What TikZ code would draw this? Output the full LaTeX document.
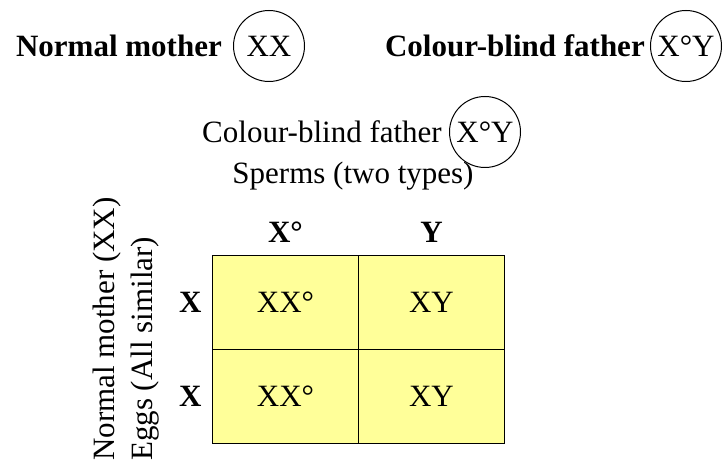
\documentclass[tikz,border=0pt]{standalone}
\usepackage{fontspec}
\setmainfont{Liberation Serif}
\usetikzlibrary{positioning}
\definecolor{cellyellow}{RGB}{255,255,153}
\begin{document}
\begin{tikzpicture}[x=1pt,y=-1pt,
	txt/.style={inner sep=0pt,font=\fontsize{31}{36}\selectfont},
	hd/.style={inner sep=0pt,font=\fontsize{31}{36}\selectfont\bfseries},
	gene/.style={txt,draw,circle,line width=1pt,minimum size=71pt},
	cell/.style={txt,draw,line width=1.5pt,fill=cellyellow,
		minimum width=146pt,minimum height=94pt}]
	\useasboundingbox (0,0) rectangle (724,470);

	% parents
	\node[gene] (mg) at (269,46) {XX};
	\node[hd, left=11pt of mg] (mlab) {Normal mother};
	\node[gene] (fg) at (686,46) {X°Y};
	\node[hd, left=5pt of fg] (flab) {Colour-blind father};

	% sperms
	\node[gene] (sg) at (485,132) {X°Y};
	\node[txt, left=7pt of sg] (slab) {Colour-blind father};
	\node[txt] (sperm) at (353,176) {Sperms (two types)};

	% punnett square
	\node[cell] (c11) at (285.5,302.5) {XX°};
	\node[cell] (c12) at (431.5,302.5) {XY};
	\node[cell] (c21) at (285.5,396.5) {XX°};
	\node[cell] (c22) at (431.5,396.5) {XY};

	\node[hd, above=12pt of c11] (xo) {X°};
	\node[hd, above=12pt of c12] (yy) {Y};
	\node[hd, left=10pt of c11] (x1) {X};
	\node[hd, left=10pt of c21] (x2) {X};

	% eggs
	\node[txt, rotate=90, anchor=west] (mum) at (107,461) {Normal mother (XX)};
	\node[txt, rotate=90, anchor=west] (eggs) at (145,461) {Eggs (All similar)};
\end{tikzpicture}
\end{document}
